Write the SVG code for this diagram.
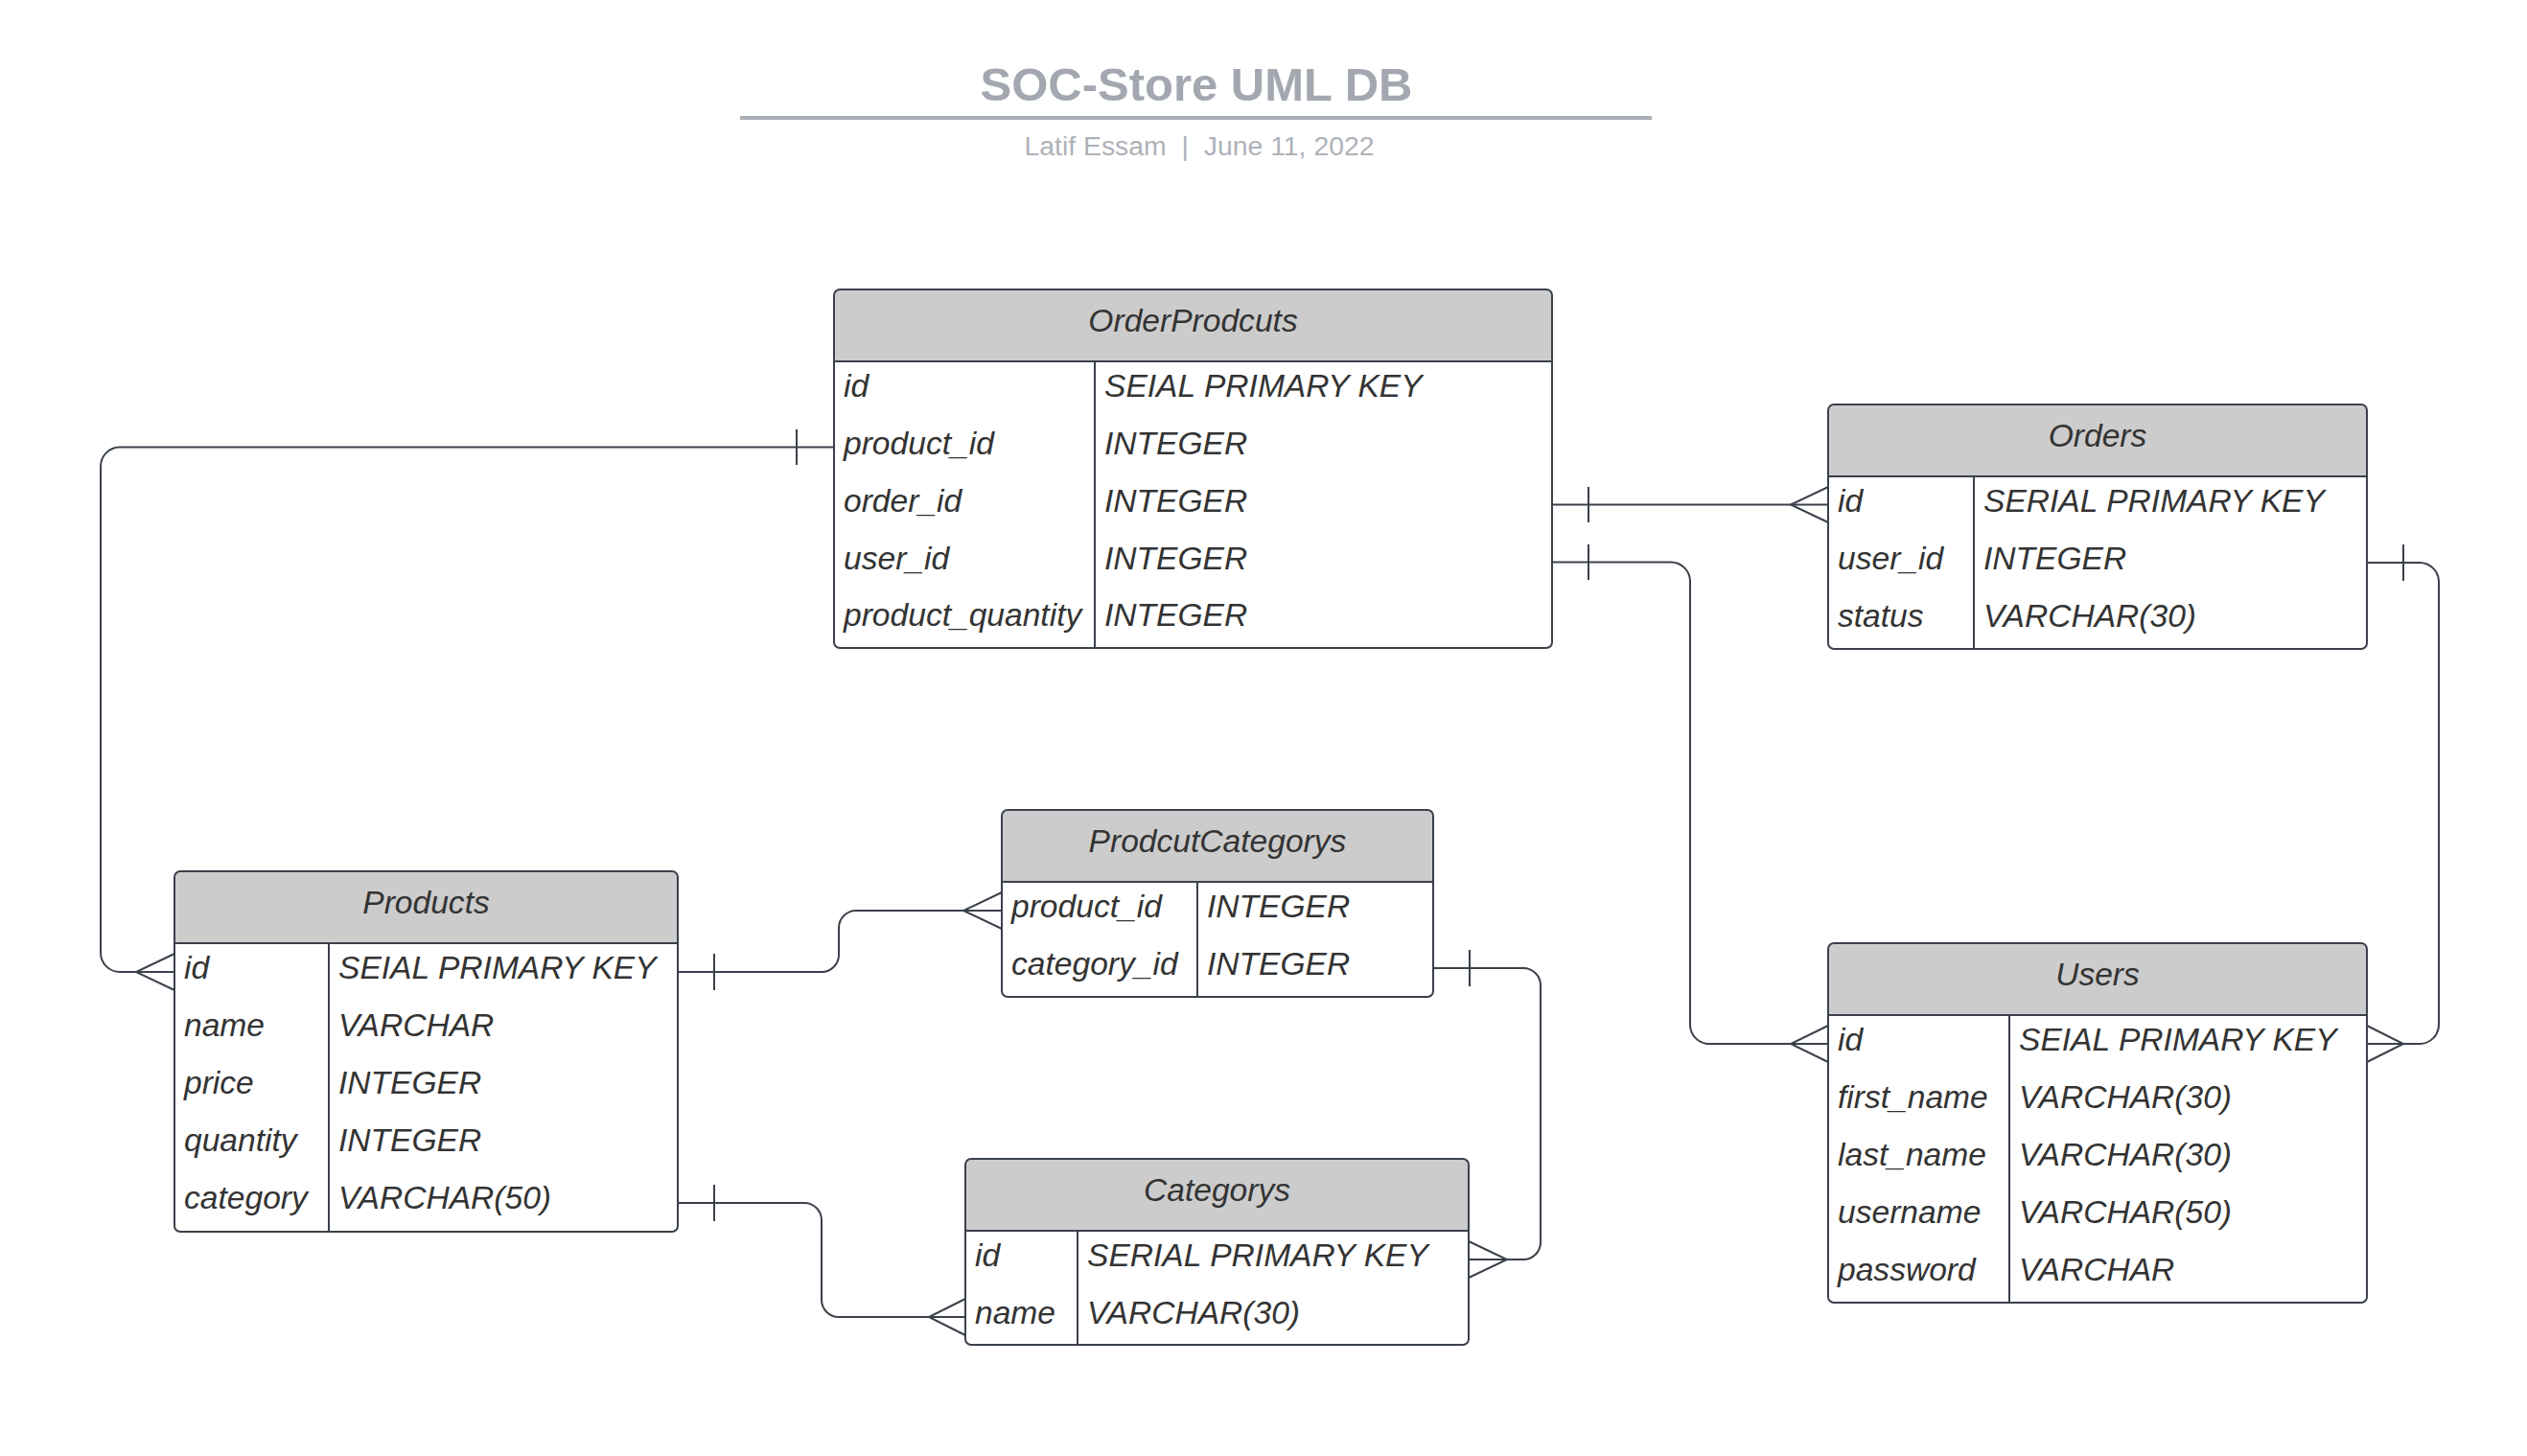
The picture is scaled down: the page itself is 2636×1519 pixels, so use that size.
<svg xmlns="http://www.w3.org/2000/svg" width="2636" height="1519" viewBox="0 0 2636 1519">
<style>
.bg{fill:#ffffff}
.box{fill:#ffffff;stroke:none}
.hdr{fill:#cccccc;stroke:none}
.ln{stroke:#3a414a;stroke-width:2;fill:none}
.outline{fill:none;stroke:#3a414a;stroke-width:2}
.t{font-family:"Liberation Sans",Arial,sans-serif;font-style:italic;font-size:33.6px;fill:#333333}
.h{text-anchor:middle}
.title{font-family:"Liberation Sans",Arial,sans-serif;font-weight:bold;font-size:49px;fill:#a3a8b0;text-anchor:middle}
.sub{font-family:"Liberation Sans",Arial,sans-serif;font-size:28.4px;fill:#aeb2b9;text-anchor:middle;white-space:pre}
.con{stroke:#3a414a;stroke-width:2;fill:none}
</style>
<rect class="bg" x="0" y="0" width="2636" height="1519"/>

<g id="title">
<text class="title" x="1248" y="105">SOC-Store UML DB</text>
<line x1="772" y1="123" x2="1723" y2="123" stroke="#a9adb5" stroke-width="4"/>
<text class="sub" x="1251" y="162">Latif Essam  |  June 11, 2022</text>
</g>

<g id="connectors">
<!-- OrderProdcuts.product_id -> Products.id -->
<path class="con" d="M870,466.5 H125 A20,20 0 0 0 105,486.5 V994 A20,20 0 0 0 125,1014 H182"/>
<path class="con" d="M831,448 V485 M182,995 L142,1014 L182,1033"/>
<!-- Products.id -> ProdcutCategorys.product_id -->
<path class="con" d="M707,1014 H857 A18,18 0 0 0 875,996 V968 A18,18 0 0 1 893,950 H1045"/>
<path class="con" d="M745,995 V1033 M1045,931 L1005,950 L1045,969"/>
<!-- Products.category -> Categorys.name -->
<path class="con" d="M707,1255 H839 A18,18 0 0 1 857,1273 V1356 A18,18 0 0 0 875,1374 H1007"/>
<path class="con" d="M745,1236 V1274 M1007,1355 L969,1374 L1007,1393"/>
<!-- ProdcutCategorys.category_id -> Categorys.id -->
<path class="con" d="M1495,1010 H1589 A18,18 0 0 1 1607,1028 V1296 A18,18 0 0 1 1589,1314 H1532"/>
<path class="con" d="M1533,991 V1029 M1532,1295 L1572,1314 L1532,1333"/>
<!-- OrderProdcuts.order_id -> Orders.id -->
<path class="con" d="M1619,526.5 H1907"/>
<path class="con" d="M1657,508 V545 M1907,508 L1868,526.5 L1907,545"/>
<!-- OrderProdcuts.user_id -> Users.id -->
<path class="con" d="M1619,586.5 H1743 A20,20 0 0 1 1763,606.5 V1069 A20,20 0 0 0 1783,1089 H1907"/>
<path class="con" d="M1657,568 V605 M1907,1070 L1868,1089 L1907,1108"/>
<!-- Orders.user_id -> Users.id -->
<path class="con" d="M2469,587 H2524 A20,20 0 0 1 2544,607 V1069 A20,20 0 0 1 2524,1089 H2469"/>
<path class="con" d="M2507,568 V606 M2469,1070 L2507,1089 L2469,1108"/>
</g>

<g id="OrderProdcuts">
<rect class="box" x="870" y="302" width="749" height="374" rx="6"/>
<path class="hdr" d="M870,377 V308 A6,6 0 0 1 876,302 H1613 A6,6 0 0 1 1619,308 V377 Z"/>
<line class="ln" x1="870" y1="377" x2="1619" y2="377"/>
<line class="ln" x1="1142" y1="377" x2="1142" y2="676"/>
<rect class="outline" x="870" y="302" width="749" height="374" rx="6"/>
<text class="t h" x="1244.5" y="346">OrderProdcuts</text>
<text class="t" x="880" y="414">id</text>
<text class="t" x="1152" y="414">SEIAL PRIMARY KEY</text>
<text class="t" x="880" y="474">product_id</text>
<text class="t" x="1152" y="474">INTEGER</text>
<text class="t" x="880" y="534">order_id</text>
<text class="t" x="1152" y="534">INTEGER</text>
<text class="t" x="880" y="594">user_id</text>
<text class="t" x="1152" y="594">INTEGER</text>
<text class="t" x="880" y="653">product_quantity</text>
<text class="t" x="1152" y="653">INTEGER</text>
</g>

<g id="Orders">
<rect class="box" x="1907" y="422" width="562" height="255" rx="6"/>
<path class="hdr" d="M1907,497 V428 A6,6 0 0 1 1913,422 H2463 A6,6 0 0 1 2469,428 V497 Z"/>
<line class="ln" x1="1907" y1="497" x2="2469" y2="497"/>
<line class="ln" x1="2059" y1="497" x2="2059" y2="677"/>
<rect class="outline" x="1907" y="422" width="562" height="255" rx="6"/>
<text class="t h" x="2188" y="466">Orders</text>
<text class="t" x="1917" y="534">id</text>
<text class="t" x="2069" y="534">SERIAL PRIMARY KEY</text>
<text class="t" x="1917" y="594">user_id</text>
<text class="t" x="2069" y="594">INTEGER</text>
<text class="t" x="1917" y="654">status</text>
<text class="t" x="2069" y="654">VARCHAR(30)</text>
</g>

<g id="Products">
<rect class="box" x="182" y="909" width="525" height="376" rx="6"/>
<path class="hdr" d="M182,984 V915 A6,6 0 0 1 188,909 H701 A6,6 0 0 1 707,915 V984 Z"/>
<line class="ln" x1="182" y1="984" x2="707" y2="984"/>
<line class="ln" x1="343" y1="984" x2="343" y2="1285"/>
<rect class="outline" x="182" y="909" width="525" height="376" rx="6"/>
<text class="t h" x="444.5" y="953">Products</text>
<text class="t" x="192" y="1021">id</text>
<text class="t" x="353" y="1021">SEIAL PRIMARY KEY</text>
<text class="t" x="192" y="1081">name</text>
<text class="t" x="353" y="1081">VARCHAR</text>
<text class="t" x="192" y="1141">price</text>
<text class="t" x="353" y="1141">INTEGER</text>
<text class="t" x="192" y="1201">quantity</text>
<text class="t" x="353" y="1201">INTEGER</text>
<text class="t" x="192" y="1261">category</text>
<text class="t" x="353" y="1261">VARCHAR(50)</text>
</g>

<g id="ProdcutCategorys">
<rect class="box" x="1045" y="845" width="450" height="195" rx="6"/>
<path class="hdr" d="M1045,920 V851 A6,6 0 0 1 1051,845 H1489 A6,6 0 0 1 1495,851 V920 Z"/>
<line class="ln" x1="1045" y1="920" x2="1495" y2="920"/>
<line class="ln" x1="1249" y1="920" x2="1249" y2="1040"/>
<rect class="outline" x="1045" y="845" width="450" height="195" rx="6"/>
<text class="t h" x="1270" y="889">ProdcutCategorys</text>
<text class="t" x="1055" y="957">product_id</text>
<text class="t" x="1259" y="957">INTEGER</text>
<text class="t" x="1055" y="1017">category_id</text>
<text class="t" x="1259" y="1017">INTEGER</text>
</g>

<g id="Categorys">
<rect class="box" x="1007" y="1209" width="525" height="194" rx="6"/>
<path class="hdr" d="M1007,1284 V1215 A6,6 0 0 1 1013,1209 H1526 A6,6 0 0 1 1532,1215 V1284 Z"/>
<line class="ln" x1="1007" y1="1284" x2="1532" y2="1284"/>
<line class="ln" x1="1124" y1="1284" x2="1124" y2="1403"/>
<rect class="outline" x="1007" y="1209" width="525" height="194" rx="6"/>
<text class="t h" x="1269.5" y="1253">Categorys</text>
<text class="t" x="1017" y="1321">id</text>
<text class="t" x="1134" y="1321">SERIAL PRIMARY KEY</text>
<text class="t" x="1017" y="1381">name</text>
<text class="t" x="1134" y="1381">VARCHAR(30)</text>
</g>

<g id="Users">
<rect class="box" x="1907" y="984" width="562" height="375" rx="6"/>
<path class="hdr" d="M1907,1059 V990 A6,6 0 0 1 1913,984 H2463 A6,6 0 0 1 2469,990 V1059 Z"/>
<line class="ln" x1="1907" y1="1059" x2="2469" y2="1059"/>
<line class="ln" x1="2096" y1="1059" x2="2096" y2="1359"/>
<rect class="outline" x="1907" y="984" width="562" height="375" rx="6"/>
<text class="t h" x="2188" y="1028">Users</text>
<text class="t" x="1917" y="1096">id</text>
<text class="t" x="2106" y="1096">SEIAL PRIMARY KEY</text>
<text class="t" x="1917" y="1156">first_name</text>
<text class="t" x="2106" y="1156">VARCHAR(30)</text>
<text class="t" x="1917" y="1216">last_name</text>
<text class="t" x="2106" y="1216">VARCHAR(30)</text>
<text class="t" x="1917" y="1276">username</text>
<text class="t" x="2106" y="1276">VARCHAR(50)</text>
<text class="t" x="1917" y="1336">password</text>
<text class="t" x="2106" y="1336">VARCHAR</text>
</g>
</svg>
